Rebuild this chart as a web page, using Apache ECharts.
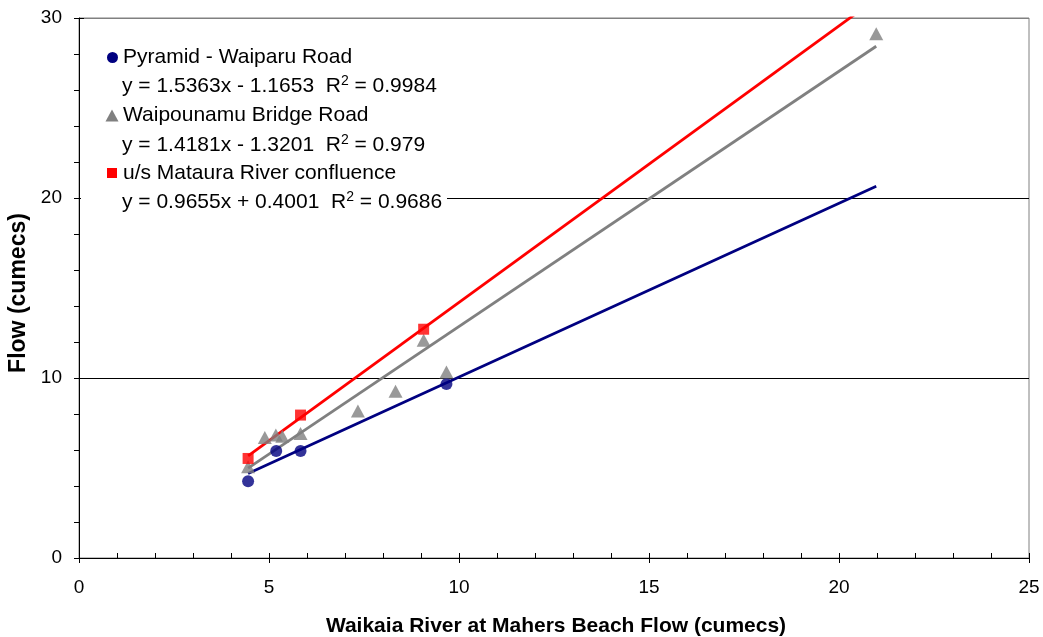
<!DOCTYPE html>
<html>
<head>
<meta charset="utf-8">
<style>
  html, body { margin: 0; padding: 0; background: #fff; }
  #chart { width: 1043px; height: 637px; }
</style>
<script src="https://cdn.jsdelivr.net/npm/echarts@6/dist/echarts.min.js"></script>
</head>
<body>
<div id="chart"></div>
<script>
// Gauged flows at each site against Waikaia River at Mahers Beach
const pyramidX = [4.45, 5.19, 5.83, 9.67];
const pyramidY = [4.27, 5.94, 5.95, 9.66];

const bridgeX = [4.45, 4.89, 5.18, 5.35, 5.83, 7.34, 8.33, 9.07, 9.67, 20.98];
const bridgeY = [5.07, 6.70, 6.83, 6.77, 6.92, 8.16, 9.27, 12.10, 10.34, 29.13];

const confluenceX = [4.45, 5.83, 9.07];
const confluenceY = [5.53, 7.94, 12.71];

const seriesNames = ['Pyramid - Waiparu Road', 'Waipounamu Bridge Road', 'u/s Mataura River confluence'];

// Linear trend lines (y = slope * x + intercept), listed in the legend order
const trendSlope = [1.5363, 1.4181, 0.9655];
const trendIntercept = [-1.1653, -1.3201, 0.4001];
const trendR2 = ['0.9984', '0.979', '0.9686'];
const trendColors = ['#FF0000', '#808080', '#000080'];
const trendRange = [4.45, 20.98];

const xTicks = [0, 5, 10, 15, 20, 25];
const yTicks = [0, 10, 20, 30];

const FONT = '"Liberation Sans", Arial, sans-serif';
const BLUE = '#000080', GRAY = '#808080', RED = '#FF0000';

function pairs(xs, ys) { return xs.map((x, i) => [x, ys[i]]); }

function eqText(i) {
  const b = trendIntercept[i];
  const sign = b < 0 ? '-' : '+';
  return 'y = ' + trendSlope[i].toFixed(4) + 'x ' + sign + ' ' + Math.abs(b).toFixed(4) +
         '  R{sup|2} = ' + trendR2[i];
}

const trendSeries = trendSlope.map((m, i) => ({
  type: 'line',
  data: trendRange.map(x => [x, m * x + trendIntercept[i]]),
  showSymbol: false,
  symbol: 'none',
  lineStyle: { color: trendColors[i], width: 2.8 },
  silent: true,
  z: 2
}));

const chart = echarts.init(document.getElementById('chart'), null, { renderer: 'canvas' });

const grid = { left: 79, right: 14, top: 18, bottom: 79, show: true, borderColor: '#808080', borderWidth: 1, backgroundColor: '#fff' };

const legendTop = [57, 86, 115, 145, 173, 202];
const legendLines = [
  seriesNames[0], eqText(0),
  seriesNames[1], eqText(1),
  seriesNames[2], eqText(2)
];
const legendLeft = [123, 122, 123, 122, 123, 122];

const graphics = [
  { type: 'rect', shape: { x: 81, y: 40, width: 366, height: 174 }, style: { fill: '#fff' }, z: 5 },
  { type: 'circle', shape: { cx: 112.5, cy: 57.5, r: 5.5 }, style: { fill: BLUE }, z: 6 },
  { type: 'polygon', shape: { points: [[112, 109.5], [118.5, 121.5], [105.5, 121.5]] }, style: { fill: GRAY }, z: 6 },
  { type: 'rect', shape: { x: 107, y: 168, width: 10, height: 10 }, style: { fill: RED }, z: 6 },
  {
    type: 'text', x: 19, y: 293, rotation: Math.PI / 2, z: 6,
    style: { text: 'Flow (cumecs)', font: 'bold 23px ' + FONT, fill: '#000', align: 'center', verticalAlign: 'middle' }
  },
  {
    type: 'text', x: 556, y: 626, z: 6,
    style: { text: 'Waikaia River at Mahers Beach Flow (cumecs)', font: 'bold 21px ' + FONT, fill: '#000', align: 'center', verticalAlign: 'middle' }
  }
];
legendLines.forEach((t, i) => {
  graphics.push({
    type: 'text', x: legendLeft[i], y: legendTop[i], z: 6,
    style: {
      text: t, font: '21px ' + FONT, fill: '#000', align: 'left', verticalAlign: 'middle',
      rich: { sup: { fontSize: 14, fontFamily: FONT, padding: [0, 0, 10, 0] } }
    }
  });
});

const axisCommon = {
  min: 0,
  splitLine: { show: false }
};

chart.setOption({
  animation: false,
  backgroundColor: '#fff',
  grid: grid,
  xAxis: [
    Object.assign({}, axisCommon, {
      type: 'value', max: 25, interval: 5, position: 'bottom',
      axisLine: { show: true, onZero: false, lineStyle: { color: '#000', width: 1 } },
      axisTick: { show: true, inside: true, length: 5, lineStyle: { color: '#000' } },
      minorTick: { show: true, splitNumber: 5, length: 5, lineStyle: { color: '#000' } },
      axisLabel: { color: '#000', fontSize: 19, fontFamily: FONT, margin: 20,
                   formatter: v => xTicks.includes(v) ? String(v) : '' }
    }),
    Object.assign({}, axisCommon, {
      type: 'value', max: 25, interval: 5, position: 'bottom',
      axisLine: { show: false },
      axisTick: { show: true, inside: false, length: 5, lineStyle: { color: '#000' } },
      axisLabel: { show: false }
    })
  ],
  yAxis: [
    Object.assign({}, axisCommon, {
      type: 'value', max: 30, interval: 10, position: 'left',
      axisLine: { show: true, onZero: false, lineStyle: { color: '#000', width: 1 } },
      axisTick: { show: true, inside: false, length: 5, lineStyle: { color: '#000' } },
      minorTick: { show: true, splitNumber: 5, length: 5, lineStyle: { color: '#000' } },
      splitLine: { show: true, lineStyle: { color: ['#000', '#000', '#000', '#808080'], width: 1 } },
      axisLabel: { color: '#000', fontSize: 19, fontFamily: FONT, margin: 17,
                   formatter: v => yTicks.includes(v) ? String(v) : '' }
    }),
    Object.assign({}, axisCommon, {
      type: 'value', max: 30, interval: 10, position: 'left',
      axisLine: { show: false },
      axisTick: { show: true, inside: true, length: 5, lineStyle: { color: '#000' } },
      axisLabel: { show: false }
    })
  ],
  series: trendSeries.concat([
    {
      name: seriesNames[0], type: 'scatter', data: pairs(pyramidX, pyramidY),
      symbol: 'circle', symbolSize: 12, itemStyle: { color: BLUE }, z: 3
    },
    {
      name: seriesNames[1], type: 'scatter', data: pairs(bridgeX, bridgeY),
      symbol: 'triangle', symbolSize: [14, 13], itemStyle: { color: GRAY }, z: 3
    },
    {
      name: seriesNames[2], type: 'scatter', data: pairs(confluenceX, confluenceY),
      symbol: 'rect', symbolSize: 11, itemStyle: { color: RED }, z: 3
    }
  ]),
  graphic: graphics
});
</script>
</body>
</html>
